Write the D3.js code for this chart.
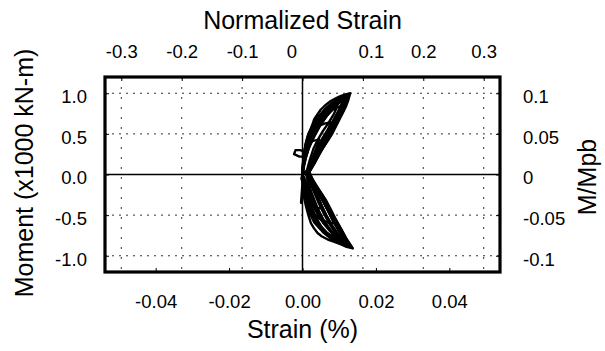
<!DOCTYPE html>
<html>
<head>
<meta charset="utf-8">
<script src="https://cdn.jsdelivr.net/npm/d3@7"></script>
<style>
  html, body { margin: 0; padding: 0; background: #fff; }
  svg { display: block; font-family: "Liberation Sans", Arial, sans-serif; }
</style>
</head>
<body>
<svg id="chart" width="605" height="351"></svg>
<script>
// ---------- data ----------
const strainTicks = [-0.04, -0.02, 0, 0.02, 0.04];          // bottom axis (%)
const normTicks   = [-0.3, -0.2, -0.1, 0, 0.1, 0.2, 0.3];    // top axis (normalized strain)
const momentTicks = [-1.0, -0.5, 0, 0.5, 1.0];              // left axis (x1000 kN-m)
const mmpbTicks   = [-0.1, -0.05, 0, 0.05, 0.1];            // right axis (M/Mpb)

// hysteresis cycles: [strain (%), moment (x1000 kN-m)]
const cycle1 = [[0,0],[0.0001,0.1],[0.0003,0.2],[0.0007,0.3],[0.0014,0.37],[0.0025,0.41],[0.0045,0.43],
  [0.004,0.36],[0.0034,0.27],[0.0027,0.17],[0.002,0.08],[0.0013,0.01],[0.0022,-0.06],[0.0032,-0.15],
  [0.0042,-0.26],[0.005,-0.36],[0.0056,-0.42],[0.0042,-0.41],[0.0028,-0.38],[0.0015,-0.31],[0.0006,-0.2],
  [0.0001,-0.1],[-0.0003,-0.05],[0,0]];
const cycle2 = [[0,0],[0.0002,0.12],[0.0005,0.25],[0.001,0.37],[0.0017,0.47],[0.0028,0.55],[0.0045,0.6],
  [0.0062,0.63],[0.0076,0.64],[0.007,0.55],[0.0061,0.45],[0.0051,0.35],[0.0039,0.24],[0.0028,0.13],
  [0.0018,0.04],[0.0012,-0.01],[0.0025,-0.09],[0.004,-0.2],[0.0055,-0.32],[0.007,-0.45],[0.0082,-0.56],
  [0.0087,-0.6],[0.0068,-0.59],[0.0048,-0.55],[0.0031,-0.49],[0.0018,-0.4],[0.0009,-0.28],[0.0003,-0.15],
  [-0.0004,-0.35],[0.0,-0.1],[0,0]];
const cycle3 = [[0,0],[0.0001,0.1],[0.0003,0.22],[-0.0008,0.22],[-0.0023,0.25],[-0.0019,0.30],[-0.0006,0.30],
  [0.0005,0.28],[0.0008,0.36],[0.0015,0.48],[0.0024,0.58],[0.0034,0.66],[0.0048,0.73],[0.0068,0.79],
  [0.0088,0.82],[0.0105,0.84],[0.0098,0.74],[0.0088,0.62],[0.0076,0.5],[0.0062,0.38],[0.0047,0.26],
  [0.0033,0.14],[0.002,0.04],[0.0013,0],[0.0028,-0.1],[0.0045,-0.22],[0.0061,-0.36],[0.0077,-0.5],
  [0.0092,-0.63],[0.0105,-0.73],[0.0112,-0.78],[0.009,-0.77],[0.0068,-0.73],[0.0048,-0.67],[0.0032,-0.59],
  [0.002,-0.48],[0.0011,-0.35],[0.0005,-0.21],[0.0001,-0.08],[0,0]];
const cycle4 = [[0,0],[0.0001,0.12],[0.0004,0.25],[0.0009,0.39],[0.0016,0.5],[0.0023,0.56],[0.0032,0.68],
  [0.005,0.8],[0.0064,0.86],[0.0077,0.905],[0.0092,0.94],[0.0105,0.967],[0.012,0.99],[0.013,1.0],
  [0.0125,0.92],[0.0119,0.844],[0.011,0.76],[0.0101,0.68],[0.0092,0.6],[0.0082,0.51],[0.0071,0.43],
  [0.0059,0.35],[0.0047,0.28],[0.0036,0.21],[0.0028,0.14],[0.0023,0.10],[0.0014,0.02],[0.0023,-0.05],
  [0.0036,-0.13],[0.005,-0.22],[0.0063,-0.31],[0.0076,-0.42],[0.0088,-0.53],[0.0099,-0.62],[0.011,-0.71],
  [0.0121,-0.8],[0.013,-0.86],[0.0137,-0.91],[0.012,-0.89],[0.0105,-0.86],[0.0087,-0.83],[0.0069,-0.8],
  [0.0052,-0.76],[0.0041,-0.72],[0.0031,-0.66],[0.0023,-0.6],[0.0016,-0.5],[0.001,-0.4],[0.0005,-0.3],
  [0.0002,-0.2],[0.0,-0.1],[0,0]];
const cycle5 = [[0,0],[0.0002,0.1],[0.0006,0.24],[0.0012,0.38],[0.0021,0.5],[0.0033,0.62],[0.0047,0.72],
  [0.0064,0.81],[0.0082,0.88],[0.0101,0.93],[0.0118,0.96],[0.0127,0.98],[0.0117,0.86],[0.0103,0.73],
  [0.0088,0.6],[0.0072,0.47],[0.0056,0.34],[0.0041,0.22],[0.0028,0.11],[0.0017,0.02],[0.0029,-0.07],
  [0.0044,-0.18],[0.006,-0.3],[0.0076,-0.44],[0.0092,-0.57],[0.0107,-0.69],[0.012,-0.8],[0.0133,-0.89],
  [0.0112,-0.86],[0.0092,-0.82],[0.0073,-0.77],[0.0056,-0.71],[0.0042,-0.63],[0.003,-0.53],[0.002,-0.42],
  [0.0012,-0.3],[0.0006,-0.18],[0.0002,-0.07],[0,0]];
const cycle6 = [[0,0],[0.0002,0.12],[0.0007,0.27],[0.0014,0.4],[0.0025,0.53],[0.0039,0.65],[0.0056,0.75],
  [0.0075,0.84],[0.0094,0.9],[0.0112,0.94],[0.0124,0.96],[0.0111,0.8],[0.0097,0.66],[0.0082,0.53],
  [0.0066,0.4],[0.005,0.28],[0.0035,0.16],[0.0022,0.06],[0.0014,0],[0.0026,-0.08],[0.004,-0.19],
  [0.0055,-0.31],[0.007,-0.45],[0.0086,-0.59],[0.01,-0.7],[0.0115,-0.8],[0.013,-0.87],[0.0108,-0.83],
  [0.0086,-0.78],[0.0065,-0.71],[0.0048,-0.63],[0.0035,-0.52],[0.0024,-0.4],[0.0015,-0.27],[0.0008,-0.15],
  [0.0003,-0.05],[0,0]];
const cycle7 = [[0,0],[0.0005,0.15],[0.0015,0.3],[0.003,0.45],[0.0048,0.6],[0.0068,0.73],[0.009,0.85],
  [0.011,0.93],[0.0122,0.97],[0.0106,0.83],[0.0088,0.7],[0.007,0.56],[0.0052,0.43],[0.0036,0.3],
  [0.0024,0.17],[0.0015,0.05],[0.0022,-0.04],[0.0034,-0.14],[0.0048,-0.26],[0.0064,-0.4],[0.008,-0.54],
  [0.0096,-0.67],[0.011,-0.77],[0.0126,-0.86],[0.0104,-0.8],[0.0082,-0.72],[0.0064,-0.63],[0.0048,-0.53],
  [0.0034,-0.42],[0.0022,-0.3],[0.0012,-0.18],[0.0004,-0.07],[0,0]];
const cycle8 = [[0,0],[0.0003,0.18],[0.001,0.33],[0.002,0.46],[0.0036,0.6],[0.0055,0.72],[0.0076,0.82],
  [0.0096,0.89],[0.0115,0.94],[0.0102,0.8],[0.0084,0.65],[0.0065,0.5],[0.0046,0.35],[0.003,0.2],
  [0.0017,0.07],[0.0011,0.0],[0.0019,-0.08],[0.003,-0.2],[0.0043,-0.34],[0.0058,-0.48],[0.0074,-0.61],
  [0.009,-0.72],[0.0107,-0.81],[0.0122,-0.85],[0.0097,-0.79],[0.0076,-0.7],[0.0057,-0.6],[0.0041,-0.49],
  [0.0028,-0.37],[0.0017,-0.24],[0.0008,-0.11],[0,0]];
const cycle9 = [[0,0],[0.0004,0.2],[0.0012,0.36],[0.0025,0.5],[0.0043,0.63],[0.0064,0.74],[0.0086,0.83],
  [0.0108,0.91],[0.0128,0.99],[0.0114,0.86],[0.0094,0.7],[0.0076,0.55],[0.0058,0.41],[0.0042,0.27],
  [0.0029,0.15],[0.0018,0.04],[0.0033,-0.12],[0.005,-0.27],[0.0068,-0.42],[0.0085,-0.57],[0.0102,-0.7],
  [0.0118,-0.82],[0.0135,-0.9],[0.0115,-0.84],[0.0094,-0.77],[0.0076,-0.68],[0.006,-0.58],[0.0045,-0.46],
  [0.0032,-0.34],[0.002,-0.21],[0.001,-0.09],[0,0]];
const cycle10 = [[0,0],[0.0002,0.15],[0.0006,0.3],[0.0014,0.45],[0.0027,0.58],[0.0042,0.7],[0.006,0.8],
  [0.008,0.88],[0.01,0.94],[0.0118,0.975],[0.0108,0.88],[0.0096,0.77],[0.0082,0.64],[0.0068,0.52],
  [0.0054,0.4],[0.004,0.28],[0.0027,0.16],[0.0016,0.06],[0.001,0],[0.0016,-0.1],[0.0026,-0.24],
  [0.0038,-0.38],[0.0052,-0.52],[0.0068,-0.65],[0.0085,-0.75],[0.0103,-0.83],[0.0128,-0.88],[0.0108,-0.85],
  [0.0088,-0.8],[0.007,-0.74],[0.0054,-0.66],[0.004,-0.56],[0.0028,-0.45],[0.0018,-0.32],[0.001,-0.2],
  [0.0004,-0.08],[0,0]];
const cycle11 = [[0,0],[0.0004,0.1],[0.001,0.22],[0.002,0.36],[0.0034,0.5],[0.0052,0.64],[0.0072,0.76],
  [0.0094,0.86],[0.0113,0.93],[0.0126,0.97],[0.012,0.9],[0.0108,0.78],[0.0094,0.65],[0.0079,0.52],
  [0.0064,0.4],[0.0049,0.29],[0.0036,0.19],[0.0024,0.09],[0.0015,0.01],[0.0024,-0.1],[0.0036,-0.22],
  [0.005,-0.36],[0.0065,-0.5],[0.008,-0.62],[0.0097,-0.73],[0.0114,-0.82],[0.0131,-0.89],[0.0116,-0.87],
  [0.0098,-0.84],[0.0078,-0.79],[0.006,-0.72],[0.0045,-0.62],[0.0033,-0.5],[0.0023,-0.37],[0.0014,-0.24],
  [0.0007,-0.12],[0,0]];
const cycle12 = [[0,0],[0.0006,0.2],[0.0016,0.38],[0.003,0.52],[0.0044,0.62],[0.006,0.7],[0.0078,0.78],
  [0.0095,0.84],[0.0085,0.74],[0.007,0.63],[0.0055,0.53],[0.0042,0.43],[0.003,0.32],[0.002,0.18],
  [0.0012,0.05],[0,0]];
const cycles = [cycle1, cycle2, cycle3, cycle4, cycle5, cycle6, cycle7, cycle8, cycle9, cycle10, cycle11, cycle12];

// ---------- layout ----------
const W = 605, H = 351;
const margin = {left: 105, right: 105, top: 77, bottom: 79};
const svg = d3.select("#chart");

const x  = d3.scaleLinear().domain([-0.0538, 0.0538]).range([margin.left, W - margin.right]);
const xn = d3.scaleLinear().domain([-0.327, 0.327]).range([margin.left, W - margin.right]);
const y  = d3.scaleLinear().domain([-1.2, 1.2]).range([H - margin.bottom, margin.top]);
const y2 = d3.scaleLinear().domain([-0.12, 0.12]).range([H - margin.bottom, margin.top]);

const font = 18.5;

// grid (dotted)
const grid = svg.append("g").attr("stroke", "#333").attr("stroke-width", 1);
grid.selectAll("line.h").data(momentTicks.filter(d => d !== 0)).join("line")
  .attr("x1", margin.left).attr("x2", W - margin.right)
  .attr("y1", d => y(d)).attr("y2", d => y(d))
  .attr("stroke-dasharray", "2,5");
grid.selectAll("line.v").data(normTicks.filter(d => d !== 0)).join("line")
  .attr("y1", margin.top).attr("y2", H - margin.bottom)
  .attr("x1", d => xn(d)).attr("x2", d => xn(d))
  .attr("stroke-dasharray", "2,8");

// zero lines
svg.append("line").attr("x1", x(0)).attr("x2", x(0)).attr("y1", margin.top).attr("y2", H - margin.bottom)
  .attr("stroke", "#000").attr("stroke-width", 1.5);
svg.append("line").attr("x1", margin.left).attr("x2", W - margin.right).attr("y1", y(0)).attr("y2", y(0))
  .attr("stroke", "#000").attr("stroke-width", 1.5);

// data
const line = d3.line().x(d => x(d[0])).y(d => y(d[1]));
svg.append("g").selectAll("path").data(cycles).join("path")
  .attr("d", line)
  .attr("fill", "none").attr("stroke", "#000").attr("stroke-width", 2.4)
  .attr("stroke-linejoin", "round").attr("stroke-linecap", "round");

// axes
function styleAxis(g) {
  g.select(".domain").remove();
  g.selectAll(".tick line").attr("stroke", "#000").attr("stroke-width", 1);
  g.selectAll(".tick text").attr("font-size", font).attr("fill", "#000")
    .attr("font-family", "'Liberation Sans', Arial, sans-serif");
}
svg.append("g").attr("transform", `translate(0,${H - margin.bottom})`)
  .call(d3.axisBottom(x).tickValues(strainTicks).tickFormat(d => d.toFixed(2)).tickSize(-4).tickPadding(23))
  .call(styleAxis);
const topAxis = svg.append("g").attr("transform", `translate(0,${margin.top})`)
  .call(d3.axisTop(xn).tickValues(normTicks).tickFormat(d => String(d)).tickSize(-4).tickPadding(19))
  .call(styleAxis);
const labelShift = {"0": -11, "0.1": 8};
topAxis.selectAll(".tick text").attr("dx", d => labelShift[String(d)] || 0);
svg.append("g").attr("transform", `translate(${margin.left},0)`)
  .call(d3.axisLeft(y).tickValues(momentTicks).tickFormat(d => d.toFixed(1)).tickSize(-4).tickPadding(18))
  .call(styleAxis)
  .call(g => g.selectAll(".tick text").attr("dy", "0.5em"));
svg.append("g").attr("transform", `translate(${W - margin.right},0)`)
  .call(d3.axisRight(y2).tickValues(mmpbTicks).tickFormat(d => String(d)).tickSize(-4).tickPadding(23))
  .call(styleAxis)
  .call(g => g.selectAll(".tick text").attr("dy", "0.5em"));

// frame
svg.append("rect").attr("x", margin.left).attr("y", margin.top)
  .attr("width", W - margin.left - margin.right).attr("height", H - margin.top - margin.bottom)
  .attr("fill", "none").attr("stroke", "#000").attr("stroke-width", 3.2);

// titles
const tsize = 25;
svg.append("text").attr("x", (margin.left + W - margin.right) / 2).attr("y", 29)
  .attr("text-anchor", "middle").attr("font-size", tsize).text("Normalized Strain");
svg.append("text").attr("x", (margin.left + W - margin.right) / 2).attr("y", 338)
  .attr("text-anchor", "middle").attr("font-size", tsize).text("Strain (%)");
svg.append("text").attr("transform", "translate(33,173) rotate(-90)")
  .attr("text-anchor", "middle").attr("font-size", tsize).text("Moment (x1000 kN-m)");
svg.append("text").attr("transform", "translate(596,177) rotate(-90)")
  .attr("text-anchor", "middle").attr("font-size", tsize).text("M/Mpb");
</script>
</body>
</html>
